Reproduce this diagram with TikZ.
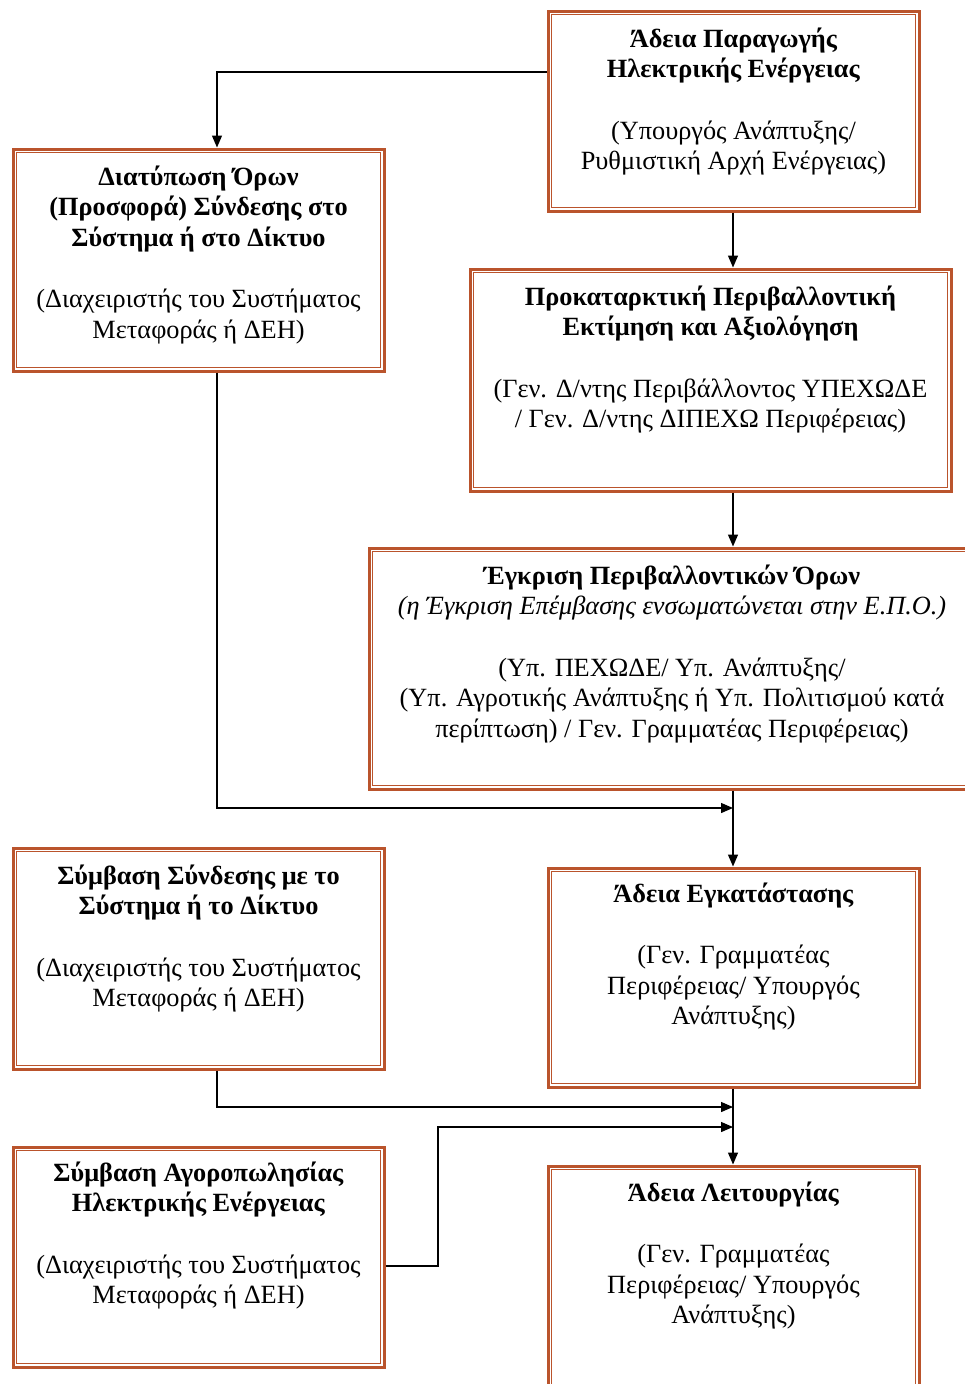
\documentclass[tikz,border=0pt]{standalone}
\usepackage{fontspec}
\setmainfont{Liberation Serif}
\usetikzlibrary{arrows.meta,calc}

\definecolor{frame}{RGB}{186,84,44}

\tikzset{
  permit/.style={rectangle, draw=frame, line width=3pt, minimum width=371pt, inner sep=0pt},
  inframe/.style={draw=frame, line width=1.2pt},
  body/.style={anchor=north, align=center, inner sep=0pt, font=\fontsize{26.3}{30.5}\selectfont},
  flow/.style={draw=black, line width=1.3pt, -{Triangle[length=12pt,width=10pt]}},
}

\begin{document}
\begin{tikzpicture}[x=1pt,y=-1pt]
    \useasboundingbox (0,0) rectangle (965,1384);

    % the boxes
    \node[permit, minimum height=200pt] (b1) at (733.5,111) {};
    \node[permit, minimum height=222pt] (b2) at (198.5,260) {};
    \node[permit, minimum width=481pt, minimum height=222pt] (b3) at (710.5,380) {};
    \node[permit, minimum width=606pt, minimum height=241pt] (b4) at (672,668.5) {};
    \node[permit, minimum height=221pt] (b5) at (198.5,958.5) {};
    \node[permit, minimum height=219pt] (b6) at (733.5,977.5) {};
    \node[permit, minimum height=220pt] (b7) at (198.5,1257) {};
    \node[permit, minimum height=240pt] (b8) at (733.5,1286) {};

    \foreach \b in {b1,b2,b3,b4,b5,b6,b7,b8}
        \draw[inframe] ([shift={(5pt,-5pt)}]\b.north west) rectangle ([shift={(-5pt,5pt)}]\b.south east);

    % texts
    \node[body] (t1) at ([yshift=-18pt]b1.north) {\textbf{Άδεια Παραγωγής}\\\textbf{Ηλεκτρικής Ενέργειας}\\[31pt](Υπουργός Ανάπτυξης/\\Ρυθμιστική Αρχή Ενέργειας)};
    \node[body] (t2) at ([yshift=-18pt]b2.north) {\textbf{Διατύπωση Όρων}\\\textbf{(Προσφορά) Σύνδεσης στο}\\\textbf{Σύστημα ή στο Δίκτυο}\\[31pt](Διαχειριστής του Συστήματος\\Μεταφοράς ή ΔΕΗ)};
    \node[body] (t3) at ([yshift=-18pt]b3.north) {\textbf{Προκαταρκτική Περιβαλλοντική}\\\textbf{Εκτίμηση και Αξιολόγηση}\\[31pt](Γεν. Δ/ντης Περιβάλλοντος ΥΠΕΧΩΔΕ\\/ Γεν. Δ/ντης ΔΙΠΕΧΩ Περιφέρειας)};
    \node[body] (t4) at ([yshift=-18pt]b4.north) {\textbf{Έγκριση Περιβαλλοντικών Όρων}\\\textit{(η Έγκριση Επέμβασης ενσωματώνεται στην Ε.Π.Ο.)}\\[31pt](Υπ. ΠΕΧΩΔΕ/ Υπ. Ανάπτυξης/\\(Υπ. Αγροτικής Ανάπτυξης ή Υπ. Πολιτισμού κατά\\περίπτωση) / Γεν. Γραμματέας Περιφέρειας)};
    \node[body] (t5) at ([yshift=-18pt]b5.north) {\textbf{Σύμβαση Σύνδεσης με το}\\\textbf{Σύστημα ή το Δίκτυο}\\[31pt](Διαχειριστής του Συστήματος\\Μεταφοράς ή ΔΕΗ)};
    \node[body] (t6) at ([yshift=-16pt]b6.north) {\textbf{Άδεια Εγκατάστασης}\\[31pt](Γεν. Γραμματέας\\Περιφέρειας/ Υπουργός\\Ανάπτυξης)};
    \node[body] (t7) at ([yshift=-16pt]b7.north) {\textbf{Σύμβαση Αγοροπωλησίας}\\\textbf{Ηλεκτρικής Ενέργειας}\\[31pt](Διαχειριστής του Συστήματος\\Μεταφοράς ή ΔΕΗ)};
    \node[body] (t8) at ([yshift=-17pt]b8.north) {\textbf{Άδεια Λειτουργίας}\\[31pt](Γεν. Γραμματέας\\Περιφέρειας/ Υπουργός\\Ανάπτυξης)};

    % connectors
    \coordinate (axis) at (733,0);
    \coordinate (j1) at (733,808);
    \coordinate (j2) at (733,1107);
    \coordinate (j3) at (733,1127);
    \coordinate (bend) at (438,1127);

    \draw[flow] ([yshift=39pt]b1.west) -| ([xshift=18.5pt]b2.north);
    \draw[flow] (axis |- b1.south) -- (axis |- b3.north);
    \draw[flow] (axis |- b3.south) -- (axis |- b4.north);
    \draw[flow] (axis |- b4.south) -- (axis |- b6.north);
    \draw[flow] ([xshift=18.5pt]b2.south) |- (j1);
    \draw[flow] ([xshift=18.5pt]b5.south) |- (j2);
    \draw[flow] ([yshift=-9pt]b7.east) -| (bend) -- (j3);
    \draw[flow] (axis |- b6.south) -- (axis |- b8.north);
\end{tikzpicture}
\end{document}
